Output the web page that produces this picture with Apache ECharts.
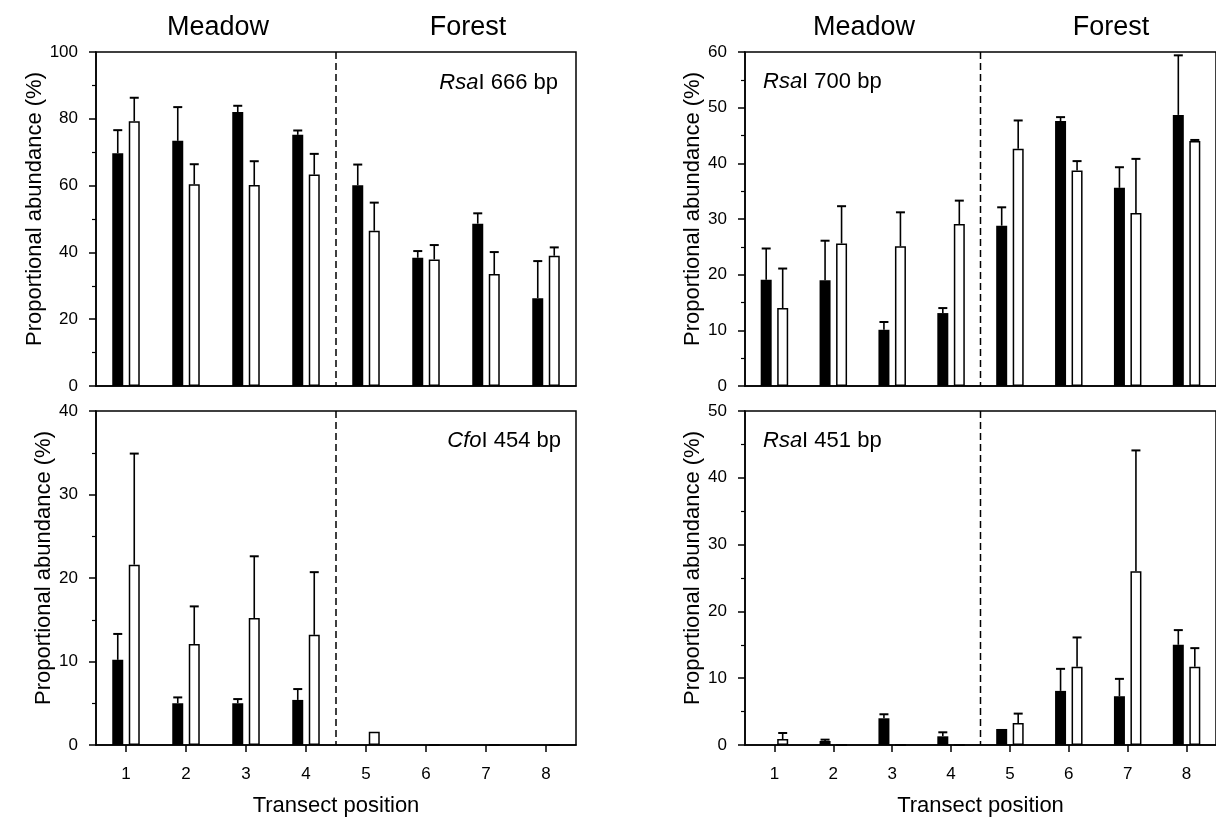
<!DOCTYPE html>
<html><head><meta charset="utf-8">
<script src="https://cdn.jsdelivr.net/npm/echarts@6/dist/echarts.min.js"></script>
<style>html,body{margin:0;padding:0;background:#fff}#c{width:1216px;height:821px}</style>
</head><body><div id="c"></div>
<script>
// ---------- data ----------
const categories = ['1', '2', '3', '4', '5', '6', '7', '8'];
const habitatLabels = ['Meadow', 'Forest'];
const dividerBetween = [3, 4]; // between positions 4 and 5 (category indices)

// RsaI 666 bp
const rsa666Black    = [69.7, 73.4, 82.0, 75.2, 60.1, 38.4, 48.6, 26.3];
const rsa666BlackTop = [76.6, 83.5, 83.9, 76.5, 66.3, 40.4, 51.7, 37.4];
const rsa666White    = [79.3, 60.4, 60.2, 63.3, 46.5, 37.9, 33.5, 39.0];
const rsa666WhiteTop = [86.3, 66.4, 67.3, 69.5, 54.9, 42.2, 40.1, 41.5];

// RsaI 700 bp
const rsa700Black    = [19.1, 19.0, 10.1, 13.1, 28.8, 47.6, 35.6, 48.7];
const rsa700BlackTop = [24.7, 26.1, 11.5, 14.0, 32.1, 48.3, 39.3, 59.4];
const rsa700White    = [14.0, 25.6, 25.1, 29.1, 42.6, 38.7, 31.1, 44.0];
const rsa700WhiteTop = [21.1, 32.3, 31.2, 33.3, 47.7, 40.4, 40.8, 44.2];

// CfoI 454 bp
const cfo454Black    = [10.2, 5.0, 5.0, 5.4, 0, 0, 0, 0];
const cfo454BlackTop = [13.3, 5.7, 5.5, 6.7, null, null, null, null];
const cfo454White    = [21.6, 12.1, 15.2, 13.2, 1.6, 0, 0, 0];
const cfo454WhiteTop = [34.9, 16.6, 22.6, 20.7, null, null, null, null];

// RsaI 451 bp
const rsa451Black    = [0, 0.6, 4.0, 1.3, 2.4, 8.1, 7.3, 15.0];
const rsa451BlackTop = [null, 0.8, 4.6, 1.9, null, 11.4, 9.9, 17.2];
const rsa451White    = [0.9, 0, 0, 0, 3.3, 11.7, 26.0, 11.7];
const rsa451WhiteTop = [1.8, null, null, null, 4.7, 16.1, 44.1, 14.5];

const yTitle = 'Proportional abundance (%)';
const xTitle = 'Transect position';

// ---------- layout / style ----------
const FONT = '"Liberation Sans", Arial, Helvetica, sans-serif';
const BAR_W = 11, GAP_RATIO = 0.5;
const OFFSET = BAR_W * (1 + GAP_RATIO) / 2;

const panels = [
  { grid: {left: 96, top: 52, width: 480, height: 334}, max: 100, interval: 20, bottom: false,
    black: rsa666Black, blackTop: rsa666BlackTop, white: rsa666White, whiteTop: rsa666WhiteTop,
    label: {text: '{i|Rsa}I 666 bp', x: 558, y: 83, align: 'right'} },
  { grid: {left: 745, top: 52, width: 480, height: 334}, max: 60, interval: 10, bottom: false,
    black: rsa700Black, blackTop: rsa700BlackTop, white: rsa700White, whiteTop: rsa700WhiteTop,
    label: {text: '{i|Rsa}I 700 bp', x: 763, y: 82, align: 'left'} },
  { grid: {left: 96, top: 411, width: 480, height: 334}, max: 40, interval: 10, bottom: true,
    black: cfo454Black, blackTop: cfo454BlackTop, white: cfo454White, whiteTop: cfo454WhiteTop,
    label: {text: '{i|Cfo}I 454 bp', x: 561, y: 441, align: 'right'} },
  { grid: {left: 745, top: 411, width: 480, height: 334}, max: 50, interval: 10, bottom: true,
    black: rsa451Black, blackTop: rsa451BlackTop, white: rsa451White, whiteTop: rsa451WhiteTop,
    label: {text: '{i|Rsa}I 451 bp', x: 763, y: 441, align: 'left'} }
];

function errData(vals, tops, side) {
  const out = [];
  vals.forEach((v, k) => { if (tops[k] != null) out.push([k, v, tops[k], side]); });
  return out;
}

function renderErr(params, api) {
  const k = api.value(0);
  const side = api.value(3);
  const p0 = api.coord([k, api.value(1)]);
  const p1 = api.coord([k, api.value(2)]);
  const x = p0[0] + side * OFFSET;
  const style = {stroke: '#000', lineWidth: 1.6};
  return {
    type: 'group',
    children: [
      {type: 'line', shape: {x1: x, y1: p0[1], x2: x, y2: p1[1]}, style},
      {type: 'line', shape: {x1: x - 4.5, y1: p1[1], x2: x + 4.5, y2: p1[1]}, style: {stroke: '#000', lineWidth: 2}}
    ]
  };
}

function renderDivider(params, api) {
  const a = api.coord([api.value(0), 0])[0];
  const b = api.coord([api.value(1), 0])[0];
  const x = (a + b) / 2;
  const cs = params.coordSys;
  return {
    type: 'line',
    shape: {x1: x, y1: cs.y, x2: x, y2: cs.y + cs.height},
    style: {stroke: '#000', lineWidth: 1.5, lineDash: [7, 4]}
  };
}

const grid = [], xAxis = [], yAxis = [], series = [], graphic = [];
panels.forEach((p, i) => {
  grid.push(Object.assign({show: true, borderColor: '#000', borderWidth: 1.5, backgroundColor: 'transparent'}, p.grid));
  xAxis.push({
    type: 'category', gridIndex: i, data: categories, boundaryGap: true,
    axisLine: {lineStyle: {color: '#000', width: 1.5}},
    axisTick: {show: p.bottom, alignWithLabel: true, length: 7, lineStyle: {color: '#000', width: 1.5}},
    axisLabel: {show: p.bottom, color: '#000', fontSize: 17, fontFamily: FONT, margin: 21},
    name: p.bottom ? xTitle : '', nameLocation: 'middle', nameGap: 50,
    nameTextStyle: {color: '#000', fontSize: 22, fontFamily: FONT}
  });
  yAxis.push({
    type: 'value', gridIndex: i, min: 0, max: p.max, interval: p.interval,
    axisLine: {show: true, lineStyle: {color: '#000', width: 1.5}},
    axisTick: {show: true, length: 7, lineStyle: {color: '#000', width: 1.5}},
    minorTick: {show: true, splitNumber: 2, length: 4, lineStyle: {color: '#000', width: 1.2}},
    splitLine: {show: false},
    axisLabel: {color: '#000', fontSize: 17, fontFamily: FONT, margin: 18},
    name: yTitle, nameLocation: 'middle', nameGap: 41,
    nameTextStyle: {color: '#000', fontSize: 22, fontFamily: FONT, padding: [0, 0, 0, 20]}
  });
  series.push({
    type: 'bar', xAxisIndex: i, yAxisIndex: i, data: p.black, barWidth: BAR_W, barGap: (GAP_RATIO * 100) + '%',
    itemStyle: {color: '#000'}, silent: true
  });
  series.push({
    type: 'bar', xAxisIndex: i, yAxisIndex: i, data: p.white, barWidth: BAR_W, barGap: (GAP_RATIO * 100) + '%',
    itemStyle: {color: '#fff', borderColor: '#000', borderWidth: 1.5}, silent: true
  });
  series.push({
    type: 'custom', xAxisIndex: i, yAxisIndex: i, renderItem: renderErr,
    data: errData(p.black, p.blackTop, -1).concat(errData(p.white, p.whiteTop, 1)),
    encode: {x: 0, y: 1}, z: 3, silent: true
  });
  series.push({
    type: 'custom', xAxisIndex: i, yAxisIndex: i, renderItem: renderDivider,
    data: [dividerBetween], encode: {x: 0, y: 1}, z: 1, silent: true
  });
  graphic.push({
    type: 'text', x: p.label.x, y: p.label.y, silent: true,
    style: {
      text: p.label.text, fill: '#000', fontSize: 22, fontFamily: FONT,
      align: p.label.align, verticalAlign: 'middle',
      rich: {i: {fontStyle: 'italic', fontSize: 22, fontFamily: FONT, fill: '#000'}}
    }
  });
});

const headerPos = [[218, 28], [468, 28], [864, 28], [1111, 28]];
headerPos.forEach((pos, k) => {
  graphic.push({
    type: 'text', x: pos[0], y: pos[1], silent: true,
    style: {text: habitatLabels[k % 2], fill: '#000', fontSize: 27, fontFamily: FONT, align: 'center', verticalAlign: 'middle'}
  });
});

const chart = echarts.init(document.getElementById('c'), null, {renderer: 'canvas'});
chart.setOption({
  animation: false,
  backgroundColor: '#fff',
  grid, xAxis, yAxis, series, graphic
});
</script></body></html>
